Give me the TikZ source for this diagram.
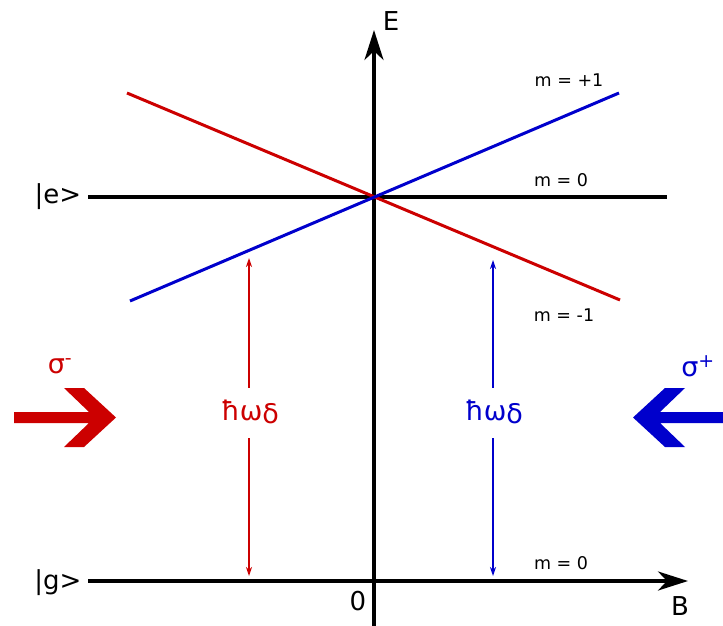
\documentclass[tikz,border=0pt]{standalone}
\usepackage{fontspec}
\setmainfont{DejaVu Sans}
\usetikzlibrary{arrows.meta}
\definecolor{myred}{HTML}{CC0000}
\definecolor{myblue}{HTML}{0000CC}
\begin{document}
\begin{tikzpicture}[x=1pt,y=-1pt,
  axis/.style={line width=3.4pt,black},
  bigtip/.style={-{Stealth[length=30pt,width=19pt,inset=9pt]}},
  level/.style={line width=3pt},
  thinarrow/.style={line width=1.3pt,-{Stealth[length=9pt,width=6pt]}},
  lab/.style={font=\fontsize{26}{26}\selectfont,inner sep=0pt},
  mlab/.style={font=\fontsize{17.5}{17.5}\selectfont,inner sep=0pt},
  hlab/.style={font=\fontsize{27}{27}\selectfont,inner sep=0pt}]
\useasboundingbox (0,0) rectangle (723,626);
% coordinates
\coordinate (eL) at (88,197);
\coordinate (eR) at (667,197);
\coordinate (gL) at (88,581);
\coordinate (gR) at (688,581);
\coordinate (vB) at (374,626);
\coordinate (vT) at (374,30);
\coordinate (rA) at (127,93);
\coordinate (rB) at (620,300);
\coordinate (bA) at (130,301);
\coordinate (bB) at (619,93);
% axes and levels
\draw[axis] (eL) -- (eR);
\draw[axis,bigtip] (gL) -- (gR);
\draw[axis,bigtip] (vB) -- (vT);
\draw[level,myred] (rA) -- (rB);
\draw[level,myblue] (bA) -- (bB);
% labels
\node[lab] (E) at (391,21) {E};
\node[lab] (B) at (680,606) {B};
\node[lab] (zero) at (358,601) {0};
\node[lab] (ket e) at (58,197) {|e>};
\node[lab] (ket g) at (58,583) {|g>};
\node[mlab] (mp1) at (569,80) {m = +1};
\node[mlab] (m0u) at (561,180) {m = 0};
\node[mlab] (mm1) at (564,315) {m = -1};
\node[mlab] (m0l) at (561,563) {m = 0};
% hbar omega labels
\node[hlab,text=myred] (hr) at (250,412) {ħω\raisebox{-0.25ex}{δ}};
\node[hlab,text=myblue] (hb) at (494,412) {ħω\raisebox{-0.25ex}{δ}};
\coordinate (hrT) at (249,258);
\coordinate (hrB) at (249,576);
\coordinate (hbT) at (493,260);
\coordinate (hbB) at (493,576);
\draw[thinarrow,myred] (hr.north -| hrT) ++(0,-12) -- (hrT);
\draw[thinarrow,myred] (hr.south -| hrB) ++(0,14) -- (hrB);
\draw[thinarrow,myblue] (hb.north -| hbT) ++(0,-12) -- (hbT);
\draw[thinarrow,myblue] (hb.south -| hbB) ++(0,14) -- (hbB);
% sigma labels
\node[hlab,text=myred] (sm) at (60,366) {σ\textsuperscript{-}};
\node[hlab,text=myblue] (sp) at (698,366) {σ\textsuperscript{+}};
% big arrows
\fill[myred] (14,412) -- (89,412) -- (64,388) -- (84,388) -- (116,417.5)
  -- (84,447) -- (64,447) -- (89,423) -- (14,423) -- cycle;
\fill[myblue] (723,412) -- (660,412) -- (685,388) -- (665,388) -- (633,417.5)
  -- (665,447) -- (685,447) -- (660,423) -- (723,423) -- cycle;
\end{tikzpicture}
\end{document}
